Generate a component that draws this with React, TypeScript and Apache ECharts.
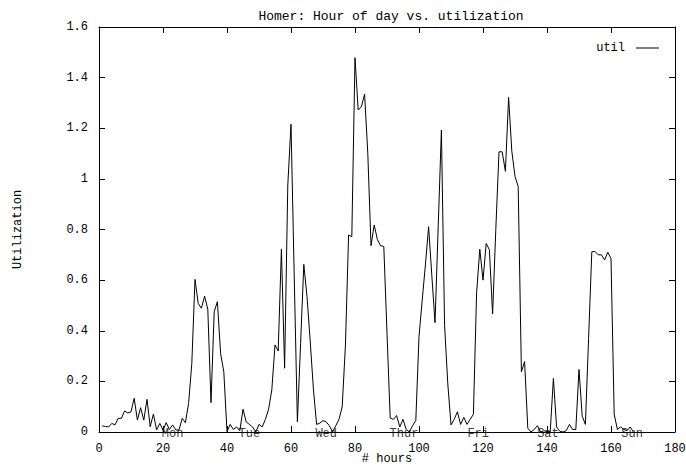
import React, { useEffect, useRef } from "react";
import * as echarts from "echarts";

const titleText = "Homer: Hour of day vs. utilization";
const xAxisName = "# hours";
const yAxisName = "Utilization";
const seriesName = "util";

// first sample is hour 1, one sample per hour
const startHour = 1;
const utilValues = [
  0.024, 0.022, 0.02, 0.034, 0.028, 0.054, 0.054, 0.083, 0.075, 0.08,
  0.133, 0.047, 0.096, 0.047, 0.129, 0.021, 0.071, 0.008, 0.034, 0.008,
  0.037, 0.01, 0.028, 0.008, 0.008, 0.054, 0.037, 0.113, 0.27, 0.603,
  0.508, 0.489, 0.537, 0.485, 0.116, 0.475, 0.515, 0.31, 0.238, 0.002,
  0.03, 0.01, 0.02, 0.005, 0.09, 0.04, 0.03, 0.02, 0.0, 0.03,
  0.02, 0.05, 0.09, 0.166, 0.344, 0.32, 0.722, 0.252, 0.976, 1.216,
  0.62, 0.04, 0.35, 0.662, 0.535, 0.36, 0.17, 0.03, 0.035, 0.045,
  0.04, 0.025, 0.0, 0.025, 0.05, 0.1, 0.34, 0.778, 0.772, 1.479,
  1.272, 1.285, 1.335, 1.1, 0.736, 0.818, 0.76, 0.736, 0.733, 0.39,
  0.055, 0.05, 0.065, 0.02, 0.05, 0.01, 0.0, 0.025, 0.045, 0.377,
  0.52, 0.66, 0.811, 0.62, 0.432, 0.81, 1.193, 0.42, 0.19, 0.028,
  0.05, 0.08, 0.03, 0.058, 0.03, 0.05, 0.07, 0.55, 0.722, 0.6,
  0.745, 0.72, 0.466, 0.8, 1.107, 1.107, 1.03, 1.322, 1.11, 1.01,
  0.97, 0.238, 0.278, 0.015, 0.0, 0.01, 0.025, 0.0, 0.005, 0.003,
  0.0, 0.212, 0.02, 0.003, 0.0, 0.005, 0.03, 0.01, 0.01, 0.247,
  0.063, 0.03, 0.37, 0.712, 0.713, 0.7, 0.7, 0.68, 0.71, 0.685,
  0.07, 0.01, 0.02, 0.01, 0.005, 0.02, 0.0,
];

const dayNames = ["Mon", "Tue", "Wed", "Thur", "Fri", "Sat", "Sun"];
const dayHours = [23, 47, 71, 95.3, 118.5, 140.3, 166.6];

const xMin = 0;
const xMax = 180;
const xStep = 20;
const yMin = 0;
const yMax = 1.6;
const yStep = 0.2;

const FONT = "Liberation Mono";

export default function App() {
  const ref = useRef<HTMLDivElement>(null);

  useEffect(() => {
    if (!ref.current) return;
    const chart = echarts.init(ref.current, null, { renderer: "svg" });
    const lineData = utilValues.map((v, i) => [startHour + i, v]);
    const dayData = dayHours.map((h) => [h, 0]);
    const tickStyle = { show: true, inside: true, length: 6, lineStyle: { color: "#000", width: 1 } };
    const axisLine = { show: true, onZero: false, lineStyle: { color: "#000", width: 1 } };
    const labelStyle = { color: "#000", fontFamily: FONT, fontSize: 12 };

    chart.setOption({
      animation: false,
      backgroundColor: "#fff",
      textStyle: { fontFamily: FONT },
      title: {
        text: titleText,
        left: 386,
        top: 5,
        textAlign: "center",
        textStyle: { color: "#000", fontFamily: FONT, fontSize: 13, fontWeight: "normal" },
      },
      legend: {
        data: [seriesName],
        right: 22,
        top: 37,
        align: "right",
        icon: "rect",
        itemWidth: 23,
        itemHeight: 1,
        textStyle: { color: "#000", fontFamily: FONT, fontSize: 12, padding: [0, 6, 0, 0] },
      },
      grid: {
        left: 99,
        right: 11,
        top: 27,
        bottom: 34,
        containLabel: false,
        outerBoundsMode: "none",
      },
      xAxis: [
        {
          type: "value",
          min: xMin,
          max: xMax,
          interval: xStep,
          position: "bottom",
          name: xAxisName,
          nameLocation: "middle",
          nameGap: 21,
          nameMoveOverlap: false,
          nameTextStyle: labelStyle,
          axisLine,
          axisTick: tickStyle,
          axisLabel: { ...labelStyle, margin: 11 },
          splitLine: { show: false },
        },
        {
          type: "value",
          min: xMin,
          max: xMax,
          interval: xStep,
          position: "top",
          axisLine,
          axisTick: tickStyle,
          axisLabel: { show: false },
          splitLine: { show: false },
        },
      ],
      yAxis: [
        {
          type: "value",
          min: yMin,
          max: yMax,
          interval: yStep,
          position: "left",
          name: yAxisName,
          nameLocation: "middle",
          nameGap: 75,
          nameTextStyle: labelStyle,
          axisLine,
          axisTick: tickStyle,
          axisLabel: { ...labelStyle, margin: 11 },
          splitLine: { show: false },
        },
        {
          type: "value",
          min: yMin,
          max: yMax,
          interval: yStep,
          position: "right",
          axisLine,
          axisTick: tickStyle,
          axisLabel: { show: false },
          splitLine: { show: false },
        },
      ],
      series: [
        {
          name: seriesName,
          type: "line",
          data: lineData,
          symbol: "none",
          showSymbol: false,
          lineStyle: { color: "#000", width: 1 },
          itemStyle: { color: "#000" },
          xAxisIndex: 0,
          yAxisIndex: 0,
        },
        {
          name: "days",
          type: "scatter",
          data: dayData,
          symbolSize: 1,
          itemStyle: { color: "rgba(0,0,0,0)" },
          silent: true,
          clip: false,
          z: 5,
          label: {
            show: true,
            position: "inside",
            offset: [0, 2],
            formatter: (p: any) => dayNames[p.dataIndex],
            color: "#000",
            fontFamily: FONT,
            fontSize: 12,
          },
        },
      ],
    });
    return () => chart.dispose();
  }, []);

  return (
    <div
      ref={ref}
      style={{ position: "fixed", left: 0, top: 0, width: 686, height: 466 }}
    />
  );
}
